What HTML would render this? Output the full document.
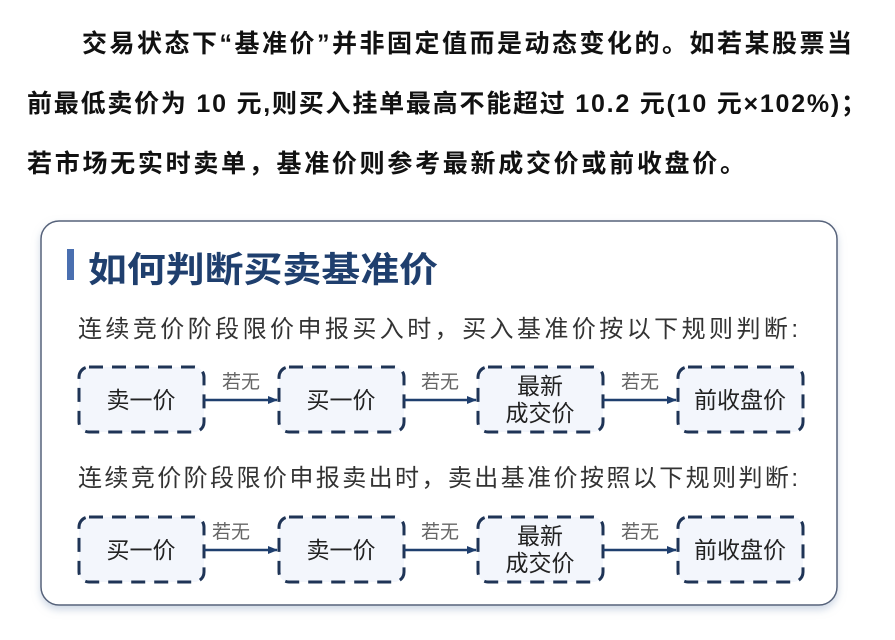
<!DOCTYPE html>
<html><head><meta charset="utf-8"><style>
html,body{margin:0;padding:0;background:#fff;width:895px;height:640px;overflow:hidden}
svg text{font-family:"Liberation Sans","Noto Sans CJK SC",sans-serif}
</style></head><body>
<svg width="895" height="640" viewBox="0 0 895 640" xmlns="http://www.w3.org/2000/svg">
<defs>
<filter id="sh" x="-5%" y="-5%" width="110%" height="115%"><feDropShadow dx="0" dy="4" stdDeviation="4" flood-color="#9fb0cc" flood-opacity="0.5"/></filter>
<marker id="ar" markerWidth="10" markerHeight="10" refX="9" refY="5" orient="auto" markerUnits="userSpaceOnUse"><path d="M0,1 L10,5 L0,9 Z" fill="#1f3f6e"/></marker>
</defs>
<g font-weight="bold" font-size="25" fill="#111">
<text x="82" y="52" textLength="770" lengthAdjust="spacing">交易状态下“基准价”并非固定值而是动态变化的。如若某股票当</text>
<text x="27" y="112" textLength="839" lengthAdjust="spacing">前最低卖价为 10 元,则买入挂单最高不能超过 10.2 元(10 元×102%)；</text>
<text x="27" y="172" textLength="718" lengthAdjust="spacing">若市场无实时卖单，基准价则参考最新成交价或前收盘价。</text>
</g>
<rect x="41" y="221" width="796" height="384" rx="18" fill="#fff" stroke="#56627a" stroke-width="1.5" filter="url(#sh)"/>
<rect x="67" y="249" width="7" height="31" fill="#4a6fb0"/>
<text x="88" y="282" font-size="35" font-weight="bold" fill="#1f3f6e" textLength="350" lengthAdjust="spacingAndGlyphs">如何判断买卖基准价</text>
<text x="78" y="337" font-size="24" fill="#333" textLength="720" lengthAdjust="spacing">连续竞价阶段限价申报买入时，买入基准价按以下规则判断:</text>
<text x="78" y="486" font-size="24" fill="#333" textLength="720" lengthAdjust="spacing">连续竞价阶段限价申报卖出时，卖出基准价按照以下规则判断:</text>
<g fill="#f3f6fc" stroke="#1f3456" stroke-width="3" stroke-dasharray="14,9">
<rect x="79" y="367" width="125" height="65" rx="10"/>
<rect x="279" y="367" width="125" height="65" rx="10"/>
<rect x="478" y="367" width="125" height="65" rx="10"/>
<rect x="678" y="367" width="125" height="65" rx="10"/>
<rect x="79" y="517" width="125" height="65" rx="10"/>
<rect x="279" y="517" width="125" height="65" rx="10"/>
<rect x="478" y="517" width="125" height="65" rx="10"/>
<rect x="678" y="517" width="125" height="65" rx="10"/>
</g>
<g stroke="#1f3f6e" stroke-width="2.5" marker-end="url(#ar)">
<line x1="204" y1="400" x2="277" y2="400"/>
<line x1="404" y1="400" x2="476" y2="400"/>
<line x1="603" y1="400" x2="676" y2="400"/>
<line x1="204" y1="550" x2="277" y2="550"/>
<line x1="404" y1="550" x2="476" y2="550"/>
<line x1="603" y1="550" x2="676" y2="550"/>
</g>
<g font-size="19" fill="#666" text-anchor="middle">
<text x="241" y="388">若无</text><text x="440" y="388">若无</text><text x="640" y="388">若无</text>
<text x="231" y="538">若无</text><text x="440" y="538">若无</text><text x="640" y="538">若无</text>
</g>
<g font-size="23" fill="#222" text-anchor="middle">
<text x="141" y="408">卖一价</text><text x="341" y="408">买一价</text>
<text x="540" y="394">最新</text><text x="540" y="421">成交价</text>
<text x="740" y="408">前收盘价</text>
<text x="141" y="558">买一价</text><text x="341" y="558">卖一价</text>
<text x="540" y="544">最新</text><text x="540" y="571">成交价</text>
<text x="740" y="558">前收盘价</text>
</g>
</svg>
</body></html>
